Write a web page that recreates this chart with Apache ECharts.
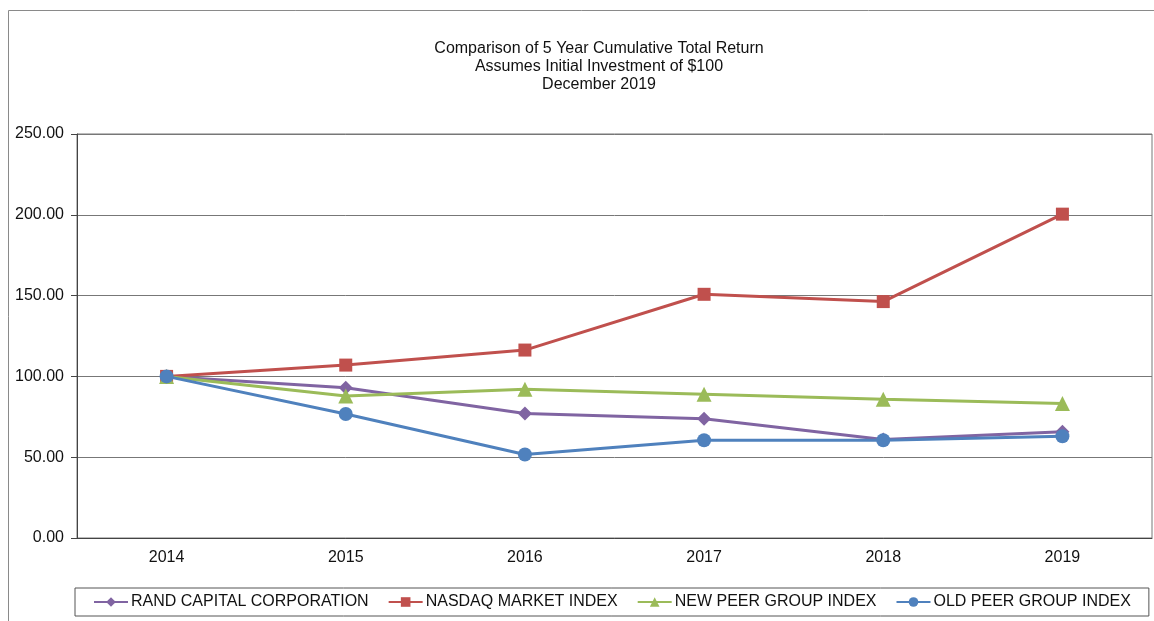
<!DOCTYPE html>
<html>
<head>
<meta charset="utf-8">
<style>
  html, body { margin: 0; padding: 0; background: #fff; }
  #chart { width: 1154px; height: 621px; }
</style>
<script src="https://cdn.jsdelivr.net/npm/echarts@6/dist/echarts.min.js"></script>
</head>
<body>
<div id="chart"></div>
<script>
const years = ["2014", "2015", "2016", "2017", "2018", "2019"];
const randCapital = [100, 93.0, 77.1, 73.8, 61.0, 65.7];
const nasdaqIndex = [100, 107.0, 116.3, 150.8, 146.3, 200.4];
const newPeerGroup = [100, 87.8, 92.0, 88.9, 85.8, 83.3];
const oldPeerGroup = [100, 76.7, 51.7, 60.5, 60.5, 63.0];
const yTicks = [0, 50, 100, 150, 200, 250];

const chart = echarts.init(document.getElementById("chart"));
const font = "Liberation Sans, Arial, sans-serif";

const makeSeries = (name, data, color, symbol, size) => ({
  name,
  type: "line",
  data,
  symbol,
  symbolSize: size,
  lineStyle: { color, width: 3 },
  itemStyle: { color },
  emphasis: { disabled: true }
});

const option = {
  animation: false,
  textStyle: { fontFamily: font },
  title: {
    text: "Comparison of 5 Year Cumulative Total Return\nAssumes Initial Investment of $100\nDecember 2019",
    left: 594,
    top: 35,
    textAlign: "center",
    textStyle: { fontSize: 16, fontWeight: "normal", color: "#111", lineHeight: 18, fontFamily: font }
  },
  graphic: [
    {
      type: "rect",
      shape: { x: 8.5, y: 10.5, width: 1200, height: 700 },
      style: { fill: "none", stroke: "#8a8a8a", lineWidth: 1 },
      silent: true
    }
  ],
  grid: {
    left: 77, right: 2, top: 134, bottom: 83,
    show: true, borderColor: "#777", borderWidth: 1
  },
  legend: {
    left: 75,
    top: 588,
    width: 1075,
    padding: [6, 18, 6, 18],
    borderColor: "#555",
    borderWidth: 1,
    itemWidth: 34,
    itemHeight: 12,
    itemGap: 19,
    textStyle: { fontSize: 16, color: "#111", fontFamily: font, padding: [0, 0, 0, -2] },
    data: ["RAND CAPITAL CORPORATION", "NASDAQ MARKET INDEX", "NEW PEER GROUP INDEX", "OLD PEER GROUP INDEX"]
  },
  xAxis: {
    type: "category",
    data: years,
    boundaryGap: true,
    axisLine: { lineStyle: { color: "#444", width: 1 } },
    axisTick: { alignWithLabel: true, inside: true, length: 5, lineStyle: { color: "#444" } },
    axisLabel: { fontSize: 16, color: "#111", margin: 12, fontFamily: font },
    splitLine: { show: false }
  },
  yAxis: {
    type: "value",
    min: yTicks[0],
    max: yTicks[yTicks.length - 1],
    interval: 50,
    axisLine: { show: true, lineStyle: { color: "#444", width: 1 } },
    axisTick: { show: true, length: 6, lineStyle: { color: "#444" } },
    axisLabel: {
      fontSize: 16, color: "#111", margin: 13, fontFamily: font,
      formatter: v => v.toFixed(2)
    },
    splitLine: { lineStyle: { color: "#777", width: 1 } }
  },
  series: [
    makeSeries("RAND CAPITAL CORPORATION", randCapital, "#8064A2", "diamond", 14),
    makeSeries("NASDAQ MARKET INDEX", nasdaqIndex, "#C0504D", "rect", 13),
    makeSeries("NEW PEER GROUP INDEX", newPeerGroup, "#9BBB59", "triangle", 15),
    makeSeries("OLD PEER GROUP INDEX", oldPeerGroup, "#4F81BD", "circle", 14)
  ]
};

chart.setOption(option);
</script>
</body>
</html>
